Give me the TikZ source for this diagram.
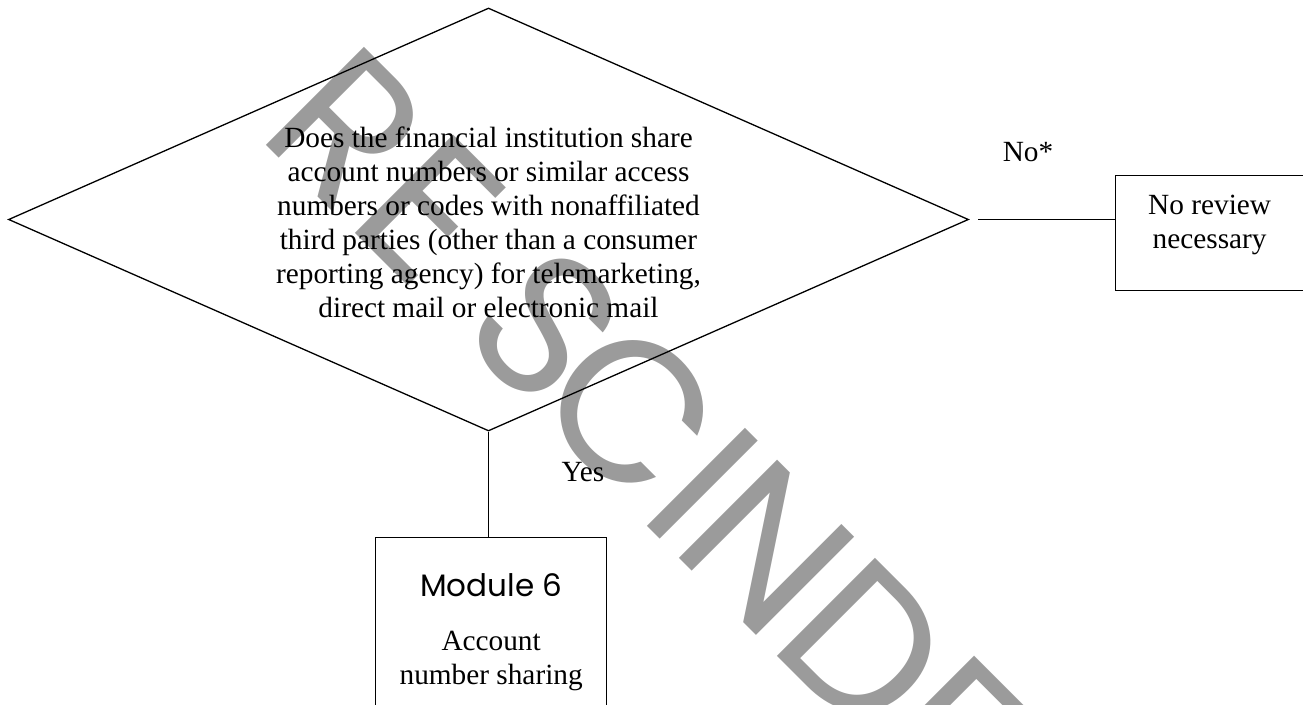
\documentclass[tikz,border=0pt]{standalone}
\usepackage{fontspec}
\setmainfont{Liberation Serif}
\newfontfamily\modfont{Poppins}
\usetikzlibrary{shapes.geometric}
\definecolor{wmgray}{RGB}{155,155,155}
\tikzset{
    txt/.style = {font=\fontsize{29.3}{34}\selectfont},
    decision/.style = {draw, diamond, inner sep=0pt, minimum width=960pt, minimum height=423pt},
    qtext/.style = {txt, align=center, inner sep=0pt},
    box/.style = {draw, rectangle, inner sep=0pt, anchor=north west, txt},
    stamp/.style = {text=wmgray, font=\modfont\fontsize{199}{199}\selectfont, inner sep=0pt, anchor=base west, rotate=-45}
}
\begin{document}
\begin{tikzpicture}[x=1pt, y=-1pt, line width=1.3pt]
            \useasboundingbox (0,0) rectangle (1303,704);
            \clip (0,0) rectangle (1303,704);
            % Watermark behind everything, one letter at a time along the slant
            \foreach \ch/\s [count=\i] in {R/275, E/400, S/557, C/659, I/814, N/859, D/998, E/1137, D/1277}
                \node[stamp] (stamp\i) at ({(\s+86)*0.7071},{(\s-86)*0.7071}) {\ch};
            
            % Nodes with manual coordinates
            \node[decision] (q) at (488.5,219.5) {};
            \node[qtext] (qt) at (488.5,222) {Does the financial institution share\\account numbers or similar access\\numbers or codes with nonaffiliated\\third parties (other than a consumer\\reporting agency) for telemarketing,\\direct mail or electronic mail};
            \node[box] (noreview) at (1115,175) {\parbox[t][115pt][t]{188pt}{\centering\rule{0pt}{39pt}No review\\necessary}\hspace{20pt}};
            \node[box] (module) at (375,537) {\parbox[t][200pt][t]{231pt}{\centering\rule{0pt}{59pt}{\modfont\fontsize{31}{34}\selectfont Module 6}\\[20pt]Account\\number sharing}};
            \node[txt] (no) at (1028,152) {No*};
            \node[txt] (yes) at (583,472) {Yes};
            
            % Edges
            \draw[shorten <=9pt] (q.east) -- (q.east -| noreview.west);
            \draw (q.south) -- (q.south |- module.north);
        \end{tikzpicture}
\end{document}
